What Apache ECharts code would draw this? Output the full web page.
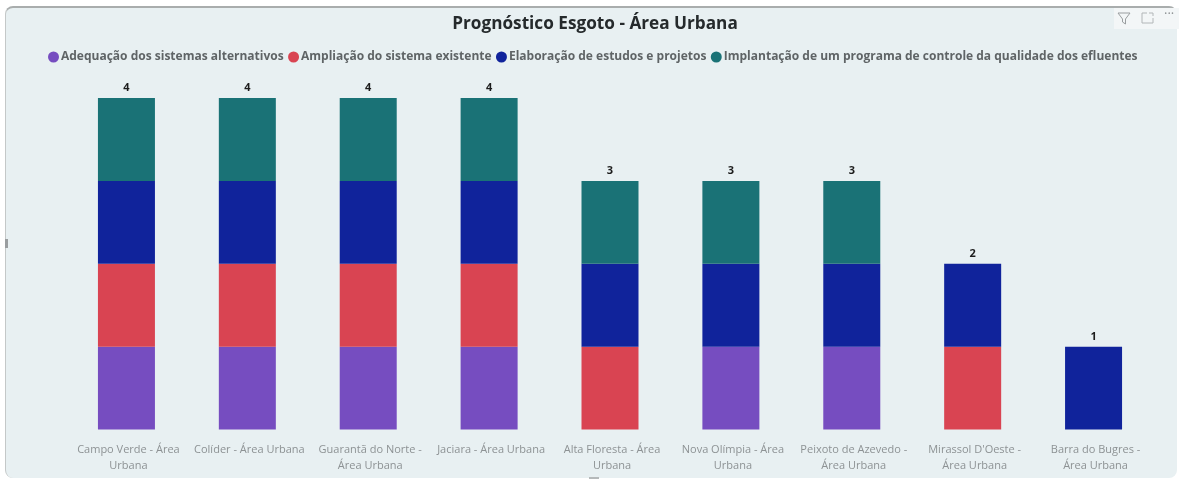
<!DOCTYPE html>
<html>
<head>
<meta charset="utf-8">
<script src="https://cdn.jsdelivr.net/npm/echarts@6/dist/echarts.min.js"></script>
<style>
html,body{margin:0;padding:0;background:#fff;}
#panel{position:absolute;left:5px;top:6px;width:1172px;height:472px;background:#e8f0f2;border-top:2px solid #a9adad;border-left:1px solid #c4c8c8;border-radius:8px;box-sizing:border-box;}
#chart{position:absolute;left:0;top:0;width:1179px;height:480px;}
</style>
</head>
<body>
<div id="panel"></div>
<div id="chart"></div>
<script>
const categories = [
  'Campo Verde - Área\nUrbana', 'Colíder - Área Urbana', 'Guarantã do Norte -\nÁrea Urbana',
  'Jaciara - Área Urbana', 'Alta Floresta - Área\nUrbana', 'Nova Olímpia - Área\nUrbana',
  'Peixoto de Azevedo -\nÁrea Urbana', "Mirassol D'Oeste -\nÁrea Urbana", 'Barra do Bugres -\nÁrea Urbana'
];
const adequacao   = [1, 1, 1, 1, null, 1, 1, null, null];
const ampliacao   = [1, 1, 1, 1, 1, null, null, 1, null];
const elaboracao  = [1, 1, 1, 1, 1, 1, 1, 1, 1];
const implantacao = [1, 1, 1, 1, 1, 1, 1, null, null];

const seriesNames = [
  'Adequação dos sistemas alternativos',
  'Ampliação do sistema existente',
  'Elaboração de estudos e projetos',
  'Implantação de um programa de controle da qualidade dos efluentes'
];
const seriesColors = ['#764dc0', '#d94452', '#10239b', '#1a7276'];
const seriesValues = [adequacao, ampliacao, elaboracao, implantacao];
const totals = categories.map((_, i) => seriesValues.reduce((sum, s) => sum + (s[i] || 0), 0));

const chart = echarts.init(document.getElementById('chart'), null, {renderer: 'canvas'});
const font = '"Open Sans", "Noto Sans", sans-serif';

chart.setOption({
  animation: false,
  backgroundColor: 'transparent',
  title: {
    text: 'Prognóstico Esgoto - Área Urbana',
    left: 590, top: 11, textAlign: 'center',
    textStyle: {fontFamily: font, fontSize: 17.2, fontWeight: 'bold', color: '#252a2c'}
  },
  legend: {
    data: seriesNames,
    left: 43, top: 46,
    icon: 'circle', itemWidth: 11, itemHeight: 11, itemGap: 4.4,
    textStyle: {fontFamily: font, fontSize: 12, fontWeight: 'bold', color: '#5f6466', padding: [0, 0, 0, -3]}
  },
  grid: {left: 66, right: 25, top: 98, bottom: 50.5},
  xAxis: {
    type: 'category', data: categories,
    axisLine: {show: false}, axisTick: {show: false},
    axisLabel: {
      interval: 0, margin: 12, lineHeight: 16, padding: [0, 0, 0, 4],
      fontFamily: font, fontSize: 11, color: '#8d9294'
    }
  },
  yAxis: {type: 'value', min: 0, max: 4, show: false},
  series: seriesNames.map((name, i) => ({
    name, type: 'bar', stack: 'total', data: seriesValues[i], barWidth: 57,
    itemStyle: {color: seriesColors[i]}
  })).concat([{
    name: 'Total', type: 'line', data: totals,
    symbol: 'circle', symbolSize: 1, showSymbol: true, showAllSymbol: true,
    itemStyle: {color: 'rgba(0,0,0,0)'}, lineStyle: {opacity: 0}, silent: true,
    label: {
      show: true, position: 'top', distance: 4,
      fontFamily: font, fontSize: 11, fontWeight: 'bold', color: '#1c1c1c'
    }
  }]),
  graphic: [
    {type: 'rect', shape: {x: 1114, y: 8, width: 65, height: 21}, style: {fill: '#f3f6f7'}},
    // visual header: filter, focus and more-options icons
    {type: 'polygon', shape: {points: [[1118,13],[1130,13],[1125.5,19],[1125.5,24],[1122.5,22],[1122.5,19]]},
      style: {fill: 'none', stroke: '#9a9ea0', lineWidth: 1}},
    {type: 'polyline', shape: {points: [[1147,13],[1142,13],[1142,23],[1153,23],[1153,18]]},
      style: {fill: 'none', stroke: '#b2b6b8', lineWidth: 1}},
    {type: 'polyline', shape: {points: [[1149,13],[1153,13],[1153,16]]},
      style: {fill: 'none', stroke: '#b2b6b8', lineWidth: 1}},
    {type: 'text', left: 1164, top: 8, style: {text: '···', fontSize: 13, fill: '#8f9395', fontFamily: font}},
    // frame resize handles
    {type: 'rect', shape: {x: 5, y: 239, width: 3, height: 9}, style: {fill: '#9a9ea0'}},
    {type: 'rect', shape: {x: 589, y: 477, width: 10, height: 2}, style: {fill: '#b5b9ba'}}
  ]
});
</script>
</body>
</html>
